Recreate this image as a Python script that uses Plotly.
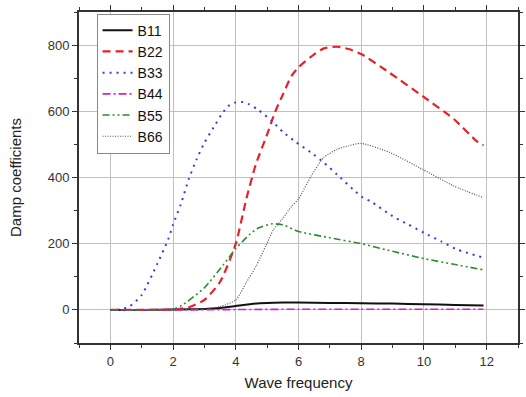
import plotly.graph_objects as go

# ---- data ----
x_b11 = [0, 1, 2, 2.5, 3, 3.5, 4, 4.5, 5, 5.5, 6, 7, 8, 9, 10, 11, 11.9]
b11 = [0, 0, 1, 2, 3, 6, 12, 18, 21, 22, 22, 21, 20, 19, 17, 15, 13]

x_b22 = [0, 1, 2, 2.5, 3, 3.5, 4, 4.33, 4.64, 5, 5.25, 5.5, 5.77, 6, 6.5, 6.81, 7.23, 7.6, 8, 8.88, 9.97, 10.96, 11.68, 11.9]
b22 = [0, 0, 1, 8, 30, 85, 200, 333, 440, 530, 597, 650, 706, 733, 772, 790, 795, 788, 773, 718, 645, 576, 510, 497]

x_b33 = [0, 0.3, 0.6, 1.0, 1.5, 1.84, 2.0, 2.25, 2.5, 2.75, 3.0, 3.29, 3.55, 3.76, 4.0, 4.23, 4.43, 4.69, 5.15, 5.52, 5.92, 6.39, 6.81, 7.23, 7.74, 8.06, 8.3, 9.0, 9.5, 10.0, 10.55, 11.07, 11.9]
b33 = [0, 1, 10, 45, 140, 212, 258, 320, 395, 455, 505, 551, 591, 616, 627, 628, 621, 606, 571, 536, 507, 476, 445, 409, 364, 339, 328, 283, 258, 233, 207, 182, 158]

x_b44 = [0, 2, 4, 6, 8, 10, 11.9]
b44 = [0, 0, 1, 2, 2, 2, 2]

x_b55 = [0, 1, 2, 2.3, 3.0, 3.6, 4.0, 4.43, 4.73, 5.15, 5.5, 6.0, 7, 8, 9, 10, 11, 11.9]
b55 = [0, 0, 2, 15, 67, 136, 185, 227, 248, 260, 257, 237, 218, 200, 177, 155, 137, 121]

x_b66 = [0, 1, 2, 3, 3.5, 4, 4.33, 4.64, 4.95, 5.2, 5.47, 5.78, 6, 6.4, 6.8, 7.23, 7.6, 8, 8.9, 9.97, 10.96, 11.9]
b66 = [0, 0, 1, 3, 10, 30, 82, 131, 192, 242, 273, 313, 335, 404, 460, 485, 496, 503, 476, 424, 374, 339]

series = [
    ("B11", x_b11, b11, "#111111", "solid", 2),
    ("B22", x_b22, b22, "#e8202a", "8px,5px", 2.2),
    ("B33", x_b33, b33, "#3a3adb", "2px,5px", 2),
    ("B44", x_b44, b44, "#d020d0", "8px,3px,2px,3px", 1.6),
    ("B55", x_b55, b55, "#2e8b2e", "7px,3px,2px,3px,2px,3px", 1.6),
    ("B66", x_b66, b66, "#555555", "1px,1.5px", 1.2),
]

fig = go.Figure()
for name, xs, ys, col, dash, w in series:
    fig.add_trace(go.Scatter(x=xs, y=ys, name=name, mode="lines",
                             line=dict(color=col, dash=dash, width=w, shape="spline", smoothing=0.6)))

axis_col = "#333333"
grid_col = "#c0c0c0"
FONT = "Arial, Liberation Sans, sans-serif"
tickfont = dict(family=FONT, size=13, color="#333333")

common = dict(tickcolor=axis_col, showline=True, linecolor=axis_col, linewidth=2,
              showgrid=True, gridcolor=grid_col, zeroline=False, tickfont=tickfont,
              mirror="ticks", ticks="outside", ticklen=5)

fig.update_layout(
    width=526, height=397,
    margin=dict(l=79, r=1, t=12, b=54),
    paper_bgcolor="white", plot_bgcolor="white",
    font=dict(family=FONT, size=13, color="#222222"),
    xaxis=dict(range=[-1, 13], dtick=2,
               minor=dict(dtick=1, ticks="outside", ticklen=3),
               title=dict(text="Wave frequency", font=dict(family=FONT, size=15, color="#222222"), standoff=10),
               **common),
    yaxis=dict(range=[-100, 900], dtick=200,
               minor=dict(dtick=100, ticks="outside", ticklen=3),
               title=dict(text="Damp coefficients", font=dict(family=FONT, size=15, color="#222222"), standoff=22),
               **common),
    legend=dict(x=0.04, y=0.995, xanchor="left", yanchor="top",
                bgcolor="white", bordercolor="#888888", borderwidth=1,
                font=dict(family=FONT, size=14, color="#111111"),
                tracegroupgap=0, itemwidth=30),
    showlegend=True,
)

fig.write_html("out.html")
